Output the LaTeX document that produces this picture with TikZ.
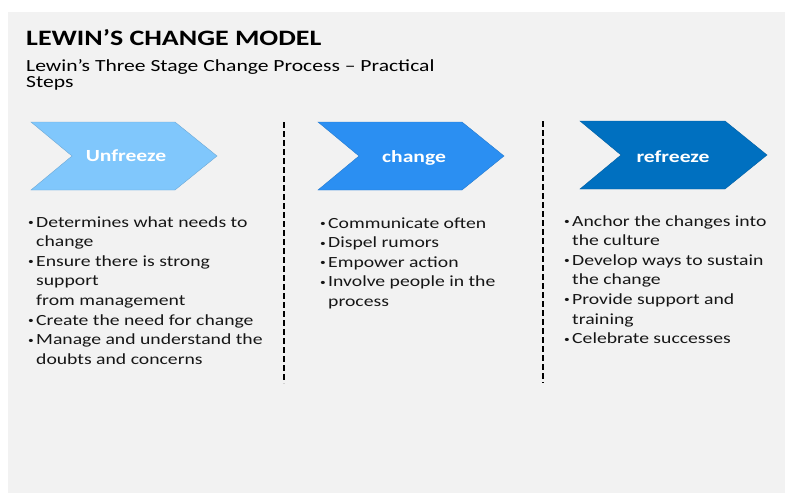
\documentclass[tikz,border=0pt]{standalone}
\usepackage{fontspec}
\setmainfont{Carlito}[FakeStretch=1.27]
\begin{document}
\begin{tikzpicture}[x=1pt,y=-1pt,
  panel/.style={fill=panelgray,draw=none},
  chev/.style={draw=#1!85!black,line width=0.4pt,fill=#1},
  chevlabel/.style={text=white,font=\bfseries\fontsize{17}{20}\selectfont,inner sep=0pt},
  divider/.style={line width=2.8pt,dash pattern=on 6pt off 3pt},
  body/.style={anchor=base west,inner sep=0pt,align=left,text=textgray}]
\definecolor{panelgray}{HTML}{F2F2F2}
\definecolor{iceblue}{HTML}{80C7FC}
\definecolor{midblue}{HTML}{2B8FF2}
\definecolor{deepblue}{HTML}{0070C0}
\definecolor{textgray}{HTML}{161616}
\useasboundingbox (0,0) rectangle (785,495);
\fill[white] (0,0) rectangle (785,495);
\path[panel] (8,12) rectangle (785,493);

% heading
\node[anchor=base west,inner sep=0pt,font=\bfseries\fontsize{22}{24}\selectfont] (title) at (26,46) {LEWIN’S CHANGE MODEL};
\node[anchor=base west,inner sep=0pt] (subtitle) at (26,71)
  {\parbox[t]{450pt}{\fontsize{17}{17}\selectfont Lewin’s Three Stage Change Process – Practical\\Steps}};

% the three stage chevrons
\path[chev=iceblue]  (31,122) -- (175,122) -- (217,156) -- (175,190) -- (31,190) -- (72,156) -- cycle;
\path[chev=midblue]  (318,122) -- (462,122) -- (504,156) -- (462,190) -- (318,190) -- (359,156) -- cycle;
\path[chev=deepblue] (580,121) -- (725,121) -- (767,155) -- (725,189) -- (580,189) -- (621,155) -- cycle;
\node[chevlabel] (unfreeze) at (126,156) {Unfreeze};
\node[chevlabel] (change)   at (414,158) {change};
\node[chevlabel] (refreeze) at (673,157) {refreeze};

% column dividers
\draw[divider] (284,122) -- (284,383);
\draw[divider] (543,121) -- (543,383);

% bullet lists
\newcommand{\bi}{\makebox[8pt][l]{\raisebox{1.5pt}{\fontsize{9}{9}\selectfont •}}}
\newcommand{\ci}{\hspace*{8pt}}
\node[body] (list1) at (28,227) {\parbox[t]{250pt}{\fontsize{15.5}{19.6}\selectfont
\bi Determines what needs to\\
\ci change\\
\bi Ensure there is strong\\
\ci support\\
\ci from management\\
\bi Create the need for change\\
\bi Manage and understand the\\
\ci doubts and concerns}};
\node[body] (list2) at (320,228) {\parbox[t]{210pt}{\fontsize{15.5}{19.6}\selectfont
\bi Communicate often\\
\bi Dispel rumors\\
\bi Empower action\\
\bi Involve people in the\\
\ci process}};
\node[body] (list3) at (564,226) {\parbox[t]{215pt}{\fontsize{15.5}{19.6}\selectfont
\bi Anchor the changes into\\
\ci the culture\\
\bi Develop ways to sustain\\
\ci the change\\
\bi Provide support and\\
\ci training\\
\bi Celebrate successes}};
\end{tikzpicture}
\end{document}
